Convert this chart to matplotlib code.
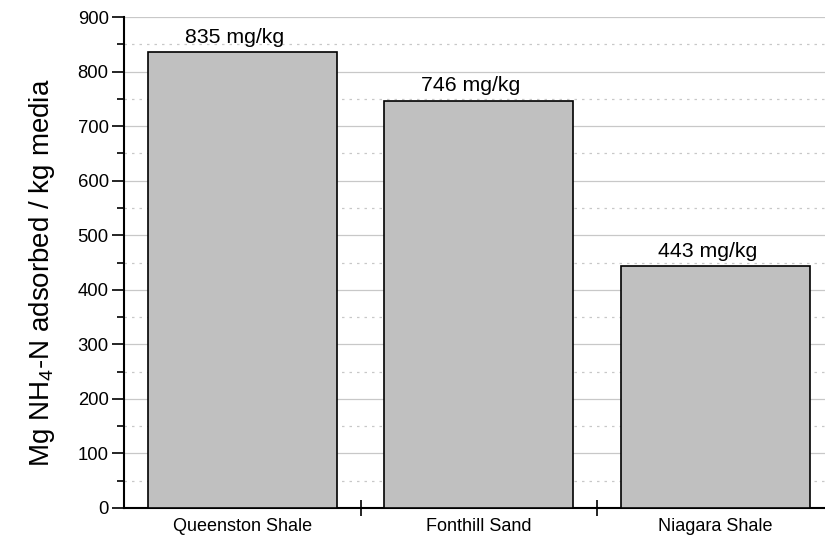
import matplotlib
matplotlib.use("Agg")
import matplotlib.pyplot as plt
from matplotlib.ticker import MultipleLocator, FixedLocator

categories = ["Queenston Shale", "Fonthill Sand", "Niagara Shale"]
values = [835, 746, 443]
labels = ["835 mg/kg", "746 mg/kg", "443 mg/kg"]

plt.rcParams['font.family'] = ['Liberation Sans', 'DejaVu Sans']
plt.rcParams['mathtext.fontset'] = 'custom'
plt.rcParams['mathtext.rm'] = 'Liberation Sans'
plt.rcParams['mathtext.it'] = 'Liberation Sans'

fig = plt.figure(figsize=(8.25, 5.4), dpi=100)
ax = fig.add_axes([124/825, 1-508/540, 701/825, (508-17)/540])

x = list(range(len(categories)))
ax.bar(x, values, width=0.8, color="#c0c0c0", edgecolor="black", linewidth=1.2, zorder=3)

for xi, v, lab in zip(x, values, labels):
    ax.annotate(lab, (xi, v), xytext=(-5.5, 4), textcoords="offset points",
                ha="center", va="bottom", fontsize=15.3, color="black")

ax.set_xlim(-0.5, 2.464)
ax.set_ylim(0, 900)

ax.yaxis.set_major_locator(MultipleLocator(100))
ax.yaxis.set_minor_locator(MultipleLocator(50))
ax.set_xticks(x)
ax.set_xticklabels(categories, fontsize=13)
ax.xaxis.set_minor_locator(FixedLocator([0.5, 1.5]))
ax.tick_params(axis='x', which='major', length=0, pad=7)
ax.tick_params(axis='x', which='minor', length=12, direction='inout', width=1.2)
ax.tick_params(axis='y', which='major', length=9, width=1.2, labelsize=13.3, pad=2)
ax.tick_params(axis='y', which='minor', length=5, width=1.2)

ax.grid(axis='y', which='major', color='#c8c8c8', linewidth=0.9, zorder=0)
ax.grid(axis='y', which='minor', color='#c8c8c8', linestyle=(0, (2, 4)), linewidth=0.9, zorder=0)
ax.set_axisbelow(True)

for s in ['top', 'right']:
    ax.spines[s].set_visible(False)
ax.spines['left'].set_linewidth(1.5)
ax.spines['bottom'].set_linewidth(1.5)

ax.set_ylabel(r"Mg NH$_4$-N adsorbed / kg media", fontsize=20)
ax.yaxis.set_label_coords(-(124-57)/701, 0.48)

fig.savefig("out.png", dpi=100)
